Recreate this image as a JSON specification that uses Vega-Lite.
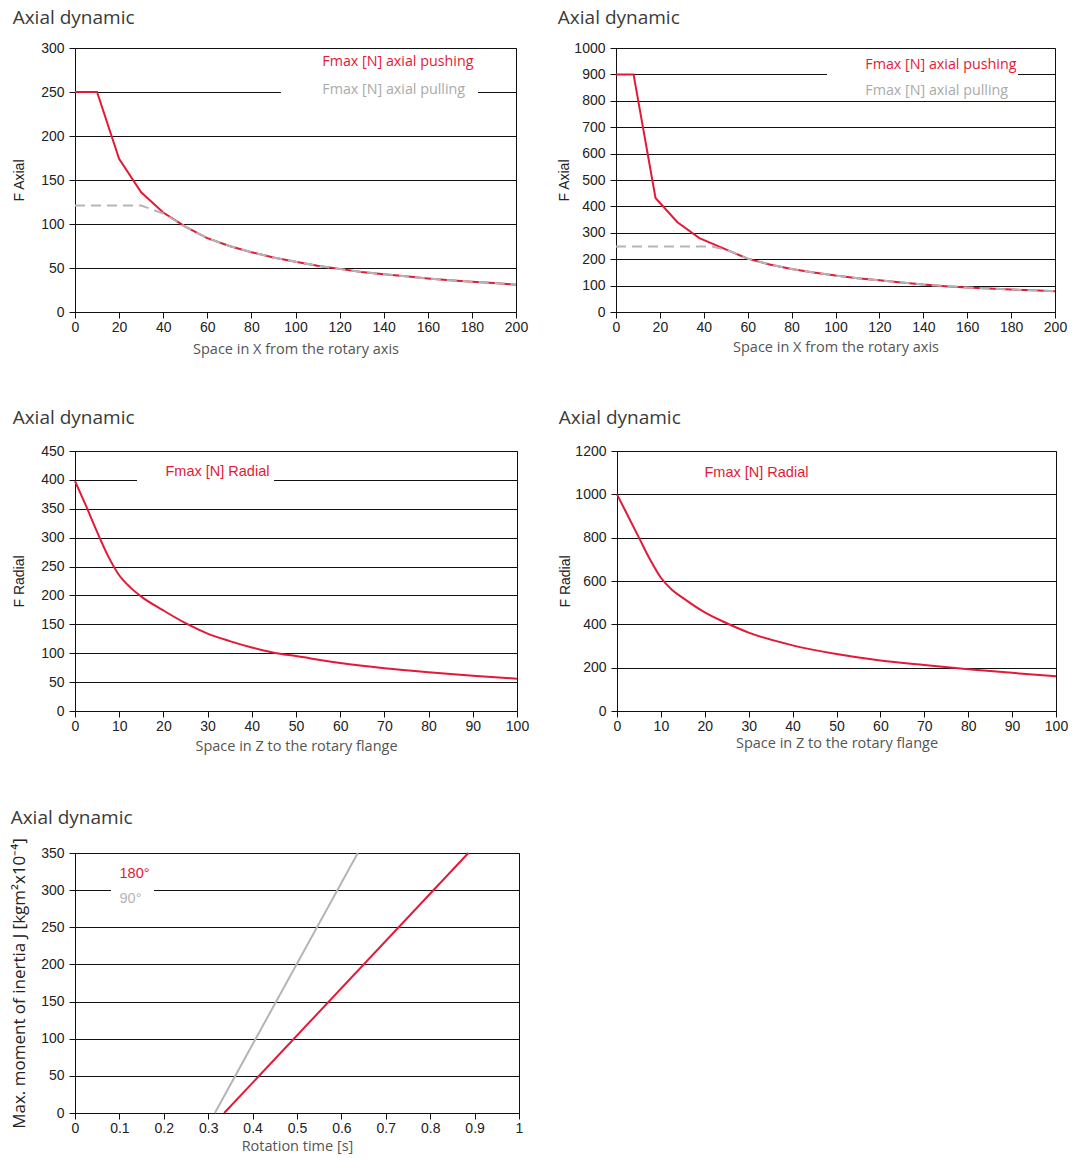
{
  "$schema": "https://vega.github.io/schema/vega-lite/v6.json",
  "padding": {"left": 10, "top": 8, "right": 5, "bottom": 5},
  "autosize": {"type": "pad"},
  "datasets": {
    "p1": [
      {"x": 0, "F": 250, "series": "Fmax [N] axial pushing"},
      {"x": 10, "F": 250, "series": "Fmax [N] axial pushing"},
      {"x": 20, "F": 174, "series": "Fmax [N] axial pushing"},
      {"x": 30, "F": 136, "series": "Fmax [N] axial pushing"},
      {"x": 40, "F": 113, "series": "Fmax [N] axial pushing"},
      {"x": 50, "F": 97, "series": "Fmax [N] axial pushing"},
      {"x": 60, "F": 84, "series": "Fmax [N] axial pushing"},
      {"x": 70, "F": 75, "series": "Fmax [N] axial pushing"},
      {"x": 80, "F": 68, "series": "Fmax [N] axial pushing"},
      {"x": 90, "F": 62, "series": "Fmax [N] axial pushing"},
      {"x": 100, "F": 57, "series": "Fmax [N] axial pushing"},
      {"x": 110, "F": 52.5, "series": "Fmax [N] axial pushing"},
      {"x": 120, "F": 49, "series": "Fmax [N] axial pushing"},
      {"x": 130, "F": 45.5, "series": "Fmax [N] axial pushing"},
      {"x": 140, "F": 43, "series": "Fmax [N] axial pushing"},
      {"x": 150, "F": 40.5, "series": "Fmax [N] axial pushing"},
      {"x": 160, "F": 38, "series": "Fmax [N] axial pushing"},
      {"x": 170, "F": 36, "series": "Fmax [N] axial pushing"},
      {"x": 180, "F": 34.5, "series": "Fmax [N] axial pushing"},
      {"x": 190, "F": 33, "series": "Fmax [N] axial pushing"},
      {"x": 200, "F": 31, "series": "Fmax [N] axial pushing"},
      {"x": 0, "F": 121, "series": "Fmax [N] axial pulling"},
      {"x": 30, "F": 121, "series": "Fmax [N] axial pulling"},
      {"x": 40, "F": 112, "series": "Fmax [N] axial pulling"},
      {"x": 50, "F": 97, "series": "Fmax [N] axial pulling"},
      {"x": 60, "F": 84, "series": "Fmax [N] axial pulling"},
      {"x": 70, "F": 75, "series": "Fmax [N] axial pulling"},
      {"x": 80, "F": 68, "series": "Fmax [N] axial pulling"},
      {"x": 90, "F": 62, "series": "Fmax [N] axial pulling"},
      {"x": 100, "F": 57, "series": "Fmax [N] axial pulling"},
      {"x": 110, "F": 52.5, "series": "Fmax [N] axial pulling"},
      {"x": 120, "F": 49, "series": "Fmax [N] axial pulling"},
      {"x": 130, "F": 45.5, "series": "Fmax [N] axial pulling"},
      {"x": 140, "F": 43, "series": "Fmax [N] axial pulling"},
      {"x": 150, "F": 40.5, "series": "Fmax [N] axial pulling"},
      {"x": 160, "F": 38, "series": "Fmax [N] axial pulling"},
      {"x": 170, "F": 36, "series": "Fmax [N] axial pulling"},
      {"x": 180, "F": 34.5, "series": "Fmax [N] axial pulling"},
      {"x": 190, "F": 33, "series": "Fmax [N] axial pulling"},
      {"x": 200, "F": 31, "series": "Fmax [N] axial pulling"}
    ],
    "p2": [
      {"x": 0, "F": 900, "series": "Fmax [N] axial pushing"},
      {"x": 8, "F": 900, "series": "Fmax [N] axial pushing"},
      {"x": 18, "F": 432, "series": "Fmax [N] axial pushing"},
      {"x": 28, "F": 340, "series": "Fmax [N] axial pushing"},
      {"x": 38, "F": 280, "series": "Fmax [N] axial pushing"},
      {"x": 50, "F": 237, "series": "Fmax [N] axial pushing"},
      {"x": 60, "F": 202, "series": "Fmax [N] axial pushing"},
      {"x": 70, "F": 180, "series": "Fmax [N] axial pushing"},
      {"x": 80, "F": 163, "series": "Fmax [N] axial pushing"},
      {"x": 90, "F": 150, "series": "Fmax [N] axial pushing"},
      {"x": 100, "F": 138, "series": "Fmax [N] axial pushing"},
      {"x": 110, "F": 128, "series": "Fmax [N] axial pushing"},
      {"x": 120, "F": 120, "series": "Fmax [N] axial pushing"},
      {"x": 130, "F": 112, "series": "Fmax [N] axial pushing"},
      {"x": 140, "F": 104, "series": "Fmax [N] axial pushing"},
      {"x": 150, "F": 98, "series": "Fmax [N] axial pushing"},
      {"x": 160, "F": 93, "series": "Fmax [N] axial pushing"},
      {"x": 170, "F": 89, "series": "Fmax [N] axial pushing"},
      {"x": 180, "F": 85, "series": "Fmax [N] axial pushing"},
      {"x": 190, "F": 82, "series": "Fmax [N] axial pushing"},
      {"x": 200, "F": 79, "series": "Fmax [N] axial pushing"},
      {"x": 0, "F": 248, "series": "Fmax [N] axial pulling"},
      {"x": 44, "F": 248, "series": "Fmax [N] axial pulling"},
      {"x": 52, "F": 230, "series": "Fmax [N] axial pulling"},
      {"x": 60, "F": 202, "series": "Fmax [N] axial pulling"},
      {"x": 70, "F": 180, "series": "Fmax [N] axial pulling"},
      {"x": 80, "F": 163, "series": "Fmax [N] axial pulling"},
      {"x": 90, "F": 150, "series": "Fmax [N] axial pulling"},
      {"x": 100, "F": 138, "series": "Fmax [N] axial pulling"},
      {"x": 110, "F": 128, "series": "Fmax [N] axial pulling"},
      {"x": 120, "F": 120, "series": "Fmax [N] axial pulling"},
      {"x": 130, "F": 112, "series": "Fmax [N] axial pulling"},
      {"x": 140, "F": 104, "series": "Fmax [N] axial pulling"},
      {"x": 150, "F": 98, "series": "Fmax [N] axial pulling"},
      {"x": 160, "F": 93, "series": "Fmax [N] axial pulling"},
      {"x": 170, "F": 89, "series": "Fmax [N] axial pulling"},
      {"x": 180, "F": 85, "series": "Fmax [N] axial pulling"},
      {"x": 190, "F": 82, "series": "Fmax [N] axial pulling"},
      {"x": 200, "F": 79, "series": "Fmax [N] axial pulling"}
    ],
    "p3": [
      {"z": 0, "F": 398, "series": "Fmax [N] Radial"},
      {"z": 2.5, "F": 355, "series": "Fmax [N] Radial"},
      {"z": 5, "F": 310, "series": "Fmax [N] Radial"},
      {"z": 7.5, "F": 268, "series": "Fmax [N] Radial"},
      {"z": 10, "F": 235, "series": "Fmax [N] Radial"},
      {"z": 12.5, "F": 214, "series": "Fmax [N] Radial"},
      {"z": 15, "F": 198, "series": "Fmax [N] Radial"},
      {"z": 20, "F": 174, "series": "Fmax [N] Radial"},
      {"z": 25, "F": 152, "series": "Fmax [N] Radial"},
      {"z": 30, "F": 134, "series": "Fmax [N] Radial"},
      {"z": 35, "F": 121, "series": "Fmax [N] Radial"},
      {"z": 40, "F": 110, "series": "Fmax [N] Radial"},
      {"z": 45, "F": 101, "series": "Fmax [N] Radial"},
      {"z": 50, "F": 95, "series": "Fmax [N] Radial"},
      {"z": 60, "F": 83, "series": "Fmax [N] Radial"},
      {"z": 70, "F": 74, "series": "Fmax [N] Radial"},
      {"z": 80, "F": 67, "series": "Fmax [N] Radial"},
      {"z": 90, "F": 61, "series": "Fmax [N] Radial"},
      {"z": 100, "F": 56, "series": "Fmax [N] Radial"}
    ],
    "p4": [
      {"z": 0, "F": 1000, "series": "Fmax [N] Radial"},
      {"z": 2.5, "F": 900, "series": "Fmax [N] Radial"},
      {"z": 5, "F": 800, "series": "Fmax [N] Radial"},
      {"z": 7.5, "F": 700, "series": "Fmax [N] Radial"},
      {"z": 10, "F": 615, "series": "Fmax [N] Radial"},
      {"z": 12.5, "F": 560, "series": "Fmax [N] Radial"},
      {"z": 15, "F": 522, "series": "Fmax [N] Radial"},
      {"z": 20, "F": 455, "series": "Fmax [N] Radial"},
      {"z": 25, "F": 405, "series": "Fmax [N] Radial"},
      {"z": 30, "F": 362, "series": "Fmax [N] Radial"},
      {"z": 40, "F": 303, "series": "Fmax [N] Radial"},
      {"z": 50, "F": 263, "series": "Fmax [N] Radial"},
      {"z": 60, "F": 233, "series": "Fmax [N] Radial"},
      {"z": 70, "F": 212, "series": "Fmax [N] Radial"},
      {"z": 80, "F": 193, "series": "Fmax [N] Radial"},
      {"z": 90, "F": 176, "series": "Fmax [N] Radial"},
      {"z": 100, "F": 160, "series": "Fmax [N] Radial"}
    ],
    "p5": [
      {"t": 0.336, "J": 0, "series": "180°"},
      {"t": 0.886, "J": 350, "series": "180°"},
      {"t": 0.315, "J": 0, "series": "90°"},
      {"t": 0.637, "J": 350, "series": "90°"}
    ]
  },
  "config": {
    "view": {"stroke": "#111", "strokeWidth": 1},
    "title": {"font": "Open Sans", "fontSize": 19, "fontWeight": "normal", "color": "#3a3a3a", "anchor": "start", "frame": "bounds", "offset": 10},
    "axis": {
      "labelFont": "Liberation Sans",
      "labelFontSize": 14,
      "labelColor": "#222",
      "domainColor": "#111",
      "tickColor": "#111",
      "gridColor": "#111",
      "gridOpacity": 1,
      "gridWidth": 1,
      "titleFontWeight": "normal",
      "labelOverlap": false,
      "labelFlush": false,
      "format": "d"
    },
    "axisX": {"grid": false, "tickSize": 6, "labelPadding": 2, "titleFont": "Open Sans", "titleFontSize": 14.5, "titleColor": "#555", "titlePadding": 3},
    "axisY": {"grid": true, "tickSize": 6, "labelPadding": 5, "titleFont": "Liberation Sans", "titleFontSize": 14, "titleColor": "#222", "titlePadding": 14},
    "legend": {"orient": "none", "fillColor": "white", "padding": 4, "symbolSize": 0, "symbolOpacity": 0, "symbolStrokeWidth": 0, "labelLimit": 400}
  },
  "resolve": {"scale": {"color": "independent"}, "legend": {"color": "independent"}},
  "spacing": 55,
  "vconcat": [
    {
      "resolve": {"scale": {"color": "independent"}, "legend": {"color": "independent"}},
      "spacing": 52,
      "vconcat": [
        {
          "resolve": {"scale": {"color": "independent"}, "legend": {"color": "independent"}},
          "spacing": 28,
          "hconcat": [
            {
              "title": {"text": "Axial dynamic", "offset": 13},
              "width": 441,
              "height": 264,
              "data": {"name": "p1"},
              "encoding": {
                "x": {"field": "x", "type": "quantitative", "scale": {"domain": [0, 200], "nice": false}, "axis": {"values": [0, 20, 40, 60, 80, 100, 120, 140, 160, 180, 200], "title": "Space in X from the rotary axis", "titlePadding": 8}},
                "y": {"field": "F", "type": "quantitative", "scale": {"domain": [0, 300], "nice": false}, "axis": {"values": [0, 50, 100, 150, 200, 250, 300], "title": "F Axial"}},
                "color": {"field": "series", "type": "nominal", "scale": {"domain": ["Fmax [N] axial pushing", "Fmax [N] axial pulling"], "range": ["#e31937", "#b5b5b5"]},
                  "legend": {"title": null, "legendX": 206, "legendY": 3, "labelOffset": 23, "labelFont": "Open Sans", "labelFontSize": 14.3, "rowPadding": 13,
                    "labelExpr": "datum.label + '\u00a0\u00a0\u00a0\u00a0'",
                    "encode": {"labels": {"update": {"fill": {"signal": "datum.value === 'Fmax [N] axial pulling' ? '#aaaaaa' : '#e31937'"}}}}}}
              },
              "layer": [
                {"transform": [{"filter": "datum.series === 'Fmax [N] axial pushing'"}], "mark": {"type": "line", "strokeWidth": 2}},
                {"transform": [{"filter": "datum.series === 'Fmax [N] axial pulling'"}], "mark": {"type": "line", "strokeWidth": 2, "strokeDash": [10, 6]}}
              ]
            },
            {
              "title": {"text": "Axial dynamic", "offset": 13},
              "width": 439,
              "height": 264,
              "data": {"name": "p2"},
              "encoding": {
                "x": {"field": "x", "type": "quantitative", "scale": {"domain": [0, 200], "nice": false}, "axis": {"values": [0, 20, 40, 60, 80, 100, 120, 140, 160, 180, 200], "title": "Space in X from the rotary axis", "titlePadding": 6}},
                "y": {"field": "F", "type": "quantitative", "scale": {"domain": [0, 1000], "nice": false}, "axis": {"values": [0, 100, 200, 300, 400, 500, 600, 700, 800, 900, 1000], "title": "F Axial", "titlePadding": 2}},
                "color": {"field": "series", "type": "nominal", "scale": {"domain": ["Fmax [N] axial pushing", "Fmax [N] axial pulling"], "range": ["#e31937", "#b5b5b5"]},
                  "legend": {"title": null, "legendX": 211, "legendY": 9, "padding": 1, "labelOffset": 23, "labelFont": "Open Sans", "labelFontSize": 14.3, "rowPadding": 10.5,
                    "labelExpr": "datum.label + '\u00a0\u00a0'",
                    "encode": {"labels": {"update": {"fill": {"signal": "datum.value === 'Fmax [N] axial pulling' ? '#aaaaaa' : '#e31937'"}}}}}}
              },
              "layer": [
                {"transform": [{"filter": "datum.series === 'Fmax [N] axial pushing'"}], "mark": {"type": "line", "strokeWidth": 2}},
                {"transform": [{"filter": "datum.series === 'Fmax [N] axial pulling'"}], "mark": {"type": "line", "strokeWidth": 2, "strokeDash": [10, 6]}}
              ]
            }
          ]
        },
        {
          "resolve": {"scale": {"color": "independent"}, "legend": {"color": "independent"}},
          "spacing": 28,
          "hconcat": [
            {
              "title": {"text": "Axial dynamic", "offset": 16},
              "width": 442,
              "height": 260,
              "data": {"name": "p3"},
              "mark": {"type": "line", "strokeWidth": 2, "interpolate": "monotone"},
              "encoding": {
                "x": {"field": "z", "type": "quantitative", "scale": {"domain": [0, 100], "nice": false}, "axis": {"values": [0, 10, 20, 30, 40, 50, 60, 70, 80, 90, 100], "title": "Space in Z to the rotary flange", "titlePadding": 6}},
                "y": {"field": "F", "type": "quantitative", "scale": {"domain": [0, 450], "nice": false}, "axis": {"values": [0, 50, 100, 150, 200, 250, 300, 350, 400, 450], "title": "F Radial"}},
                "color": {"field": "series", "type": "nominal", "scale": {"domain": ["Fmax [N] Radial"], "range": ["#e31937"]},
                  "legend": {"title": null, "legendX": 62, "legendY": 10, "labelOffset": 10, "labelFont": "Liberation Sans", "labelFontSize": 14.5, "labelColor": "#e31937",
                    "labelExpr": "datum.label + '\u00a0'"}}
              }
            },
            {
              "title": {"text": "Axial dynamic", "offset": 16},
              "width": 439,
              "height": 260,
              "data": {"name": "p4"},
              "mark": {"type": "line", "strokeWidth": 2, "interpolate": "monotone"},
              "encoding": {
                "x": {"field": "z", "type": "quantitative", "scale": {"domain": [0, 100], "nice": false}, "axis": {"values": [0, 10, 20, 30, 40, 50, 60, 70, 80, 90, 100], "title": "Space in Z to the rotary flange", "titlePadding": 3}},
                "y": {"field": "F", "type": "quantitative", "scale": {"domain": [0, 1200], "nice": false}, "axis": {"values": [0, 200, 400, 600, 800, 1000, 1200], "title": "F Radial", "titlePadding": 2}},
                "color": {"field": "series", "type": "nominal", "scale": {"domain": ["Fmax [N] Radial"], "range": ["#e31937"]},
                  "legend": {"title": null, "legendX": 58, "legendY": 11, "labelOffset": 11, "labelFont": "Liberation Sans", "labelFontSize": 14.5, "labelColor": "#e31937"}}
              }
            }
          ]
        }
      ]
    },
    {
      "title": {"text": "Axial dynamic", "offset": 10},
      "width": 444,
      "height": 260,
      "data": {"name": "p5"},
      "mark": {"type": "line", "strokeWidth": 2},
      "encoding": {
        "x": {"field": "t", "type": "quantitative", "scale": {"domain": [0, 1], "nice": false}, "axis": {"values": [0, 0.1, 0.2, 0.3, 0.4, 0.5, 0.6, 0.7, 0.8, 0.9, 1], "format": ".1~f", "title": "Rotation time [s]", "titlePadding": 4}},
        "y": {"field": "J", "type": "quantitative", "scale": {"domain": [0, 350], "nice": false}, "axis": {"values": [0, 50, 100, 150, 200, 250, 300, 350], "title": "Max. moment of inertia J [kgm²x10⁻⁴]", "titleFont": "Open Sans", "titleFontSize": 17, "titlePadding": 12}},
        "color": {"field": "series", "type": "nominal", "scale": {"domain": ["180°", "90°"], "range": ["#e31937", "#b5b5b5"]},
          "legend": {"title": null, "legendX": 36, "legendY": 10, "labelOffset": -10, "labelFont": "Liberation Sans", "labelFontSize": 14.5, "rowPadding": 10,
            "labelExpr": "datum.label + '\u00a0\u00a0\u00a0\u00a0\u00a0\u00a0\u00a0\u00a0\u00a0'",
            "encode": {"labels": {"update": {"fill": {"signal": "datum.value === '90°' ? '#b5b5b5' : '#e31937'"}}}}}}
      }
    }
  ]
}
